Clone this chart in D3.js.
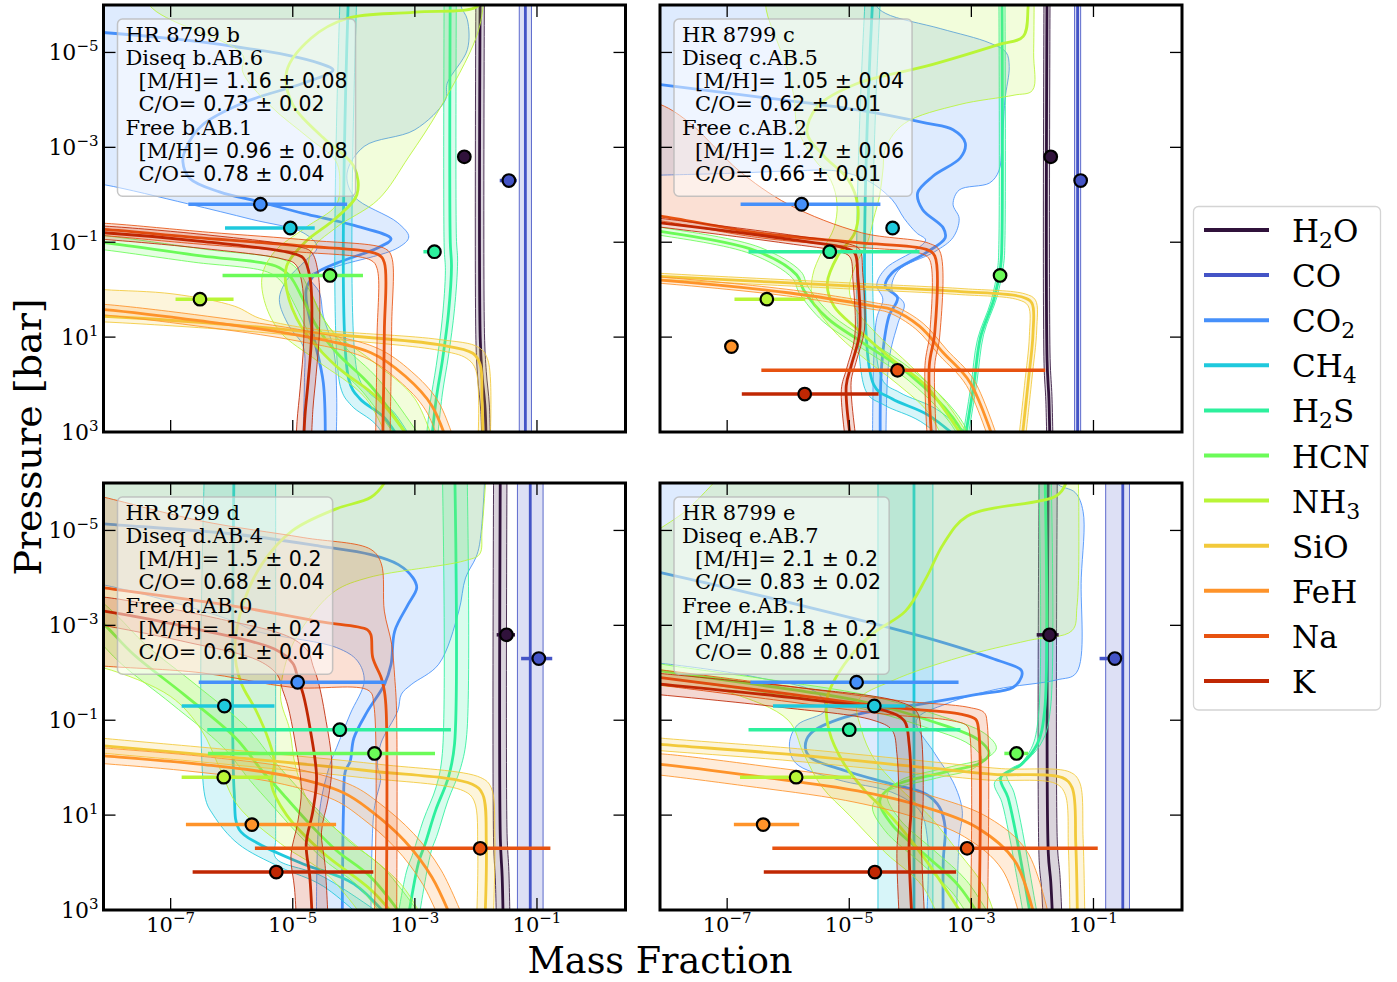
<!DOCTYPE html>
<html><head><meta charset="utf-8">
<script src="https://cdn.jsdelivr.net/npm/d3@7"></script>
<style>body{margin:0;background:#fff}svg{display:block}</style>
</head><body>
<svg id="chart" width="1397" height="982"></svg>
<script>
// ---------------- shared ----------------
const species = ["H2O","CO","CO2","CH4","H2S","HCN","NH3","SiO","FeH","Na","K"];
const legendParts = [[["H",0],["2",1],["O",0]],[["CO",0]],[["CO",0],["2",1]],[["CH",0],["4",1]],
  [["H",0],["2",1],["S",0]],[["HCN",0]],[["NH",0],["3",1]],[["SiO",0]],[["FeH",0]],[["Na",0]],[["K",0]]];
const colors = ["#30123b","#4454c6","#4690fa","#1fc9dd","#2df09d","#6bfb58","#b9f537","#f2c93a","#fe932a","#e75210","#c02703"];
const pointP = [-2.8,-2.3,-1.8,-1.3,-0.8,-0.3,0.2,0.7,1.2,1.7,2.2];   // log10 P of free-retrieval points
const xTicks = [-7,-5,-3,-1];
const yTicks = [-5,-3,-1,1,3];
const xLim = [-8.1,0.45];
const yLim = [-6,3];

// ---------------- HR 8799 b ----------------
const b_info = ["HR 8799 b","Diseq b.AB.6","1.16 ± 0.08","0.73 ± 0.02","Free b.AB.1","0.96 ± 0.08","0.78 ± 0.04"];
const b_med = {
 H2O:[[-1.93,-6.5],[-1.93,1.0],[-1.9,1.8],[-1.85,2.5],[-1.83,3.5]],
 CO:[[-1.19,-6.5],[-1.19,3.5]],
 CO2:[[-8.6,-5.45],[-8.11,-5.42],[-6.75,-5.26],[-5.93,-5.12],[-5.11,-4.95],[-4.56,-4.77],[-4.34,-4.63],[-4.83,-4.35],[-5.77,-3.96],[-6.48,-3.47],[-6.75,-2.98],[-6.8,-2.7],[-6.69,-2.35],[-6.2,-2.06],[-5.54,-1.85],[-4.83,-1.61],[-4.01,-1.36],[-3.39,-1.07],[-3.61,-0.88],[-4.28,-0.56],[-4.61,-0.35],[-4.78,0.0],[-4.67,0.91],[-4.5,1.96],[-4.47,3.5]],
 CH4:[[-4.08,-6.5],[-4.08,1.9],[-3.9,2.3],[-3.5,2.7],[-3.1,3.5]],
 H2S:[[-2.42,-6.5],[-2.42,-1.0],[-2.4,-0.5],[-2.45,0.5],[-2.55,1.5],[-2.65,2.3],[-2.75,3.5]],
 HCN:[[-8.6,-1.05],[-8.09,-0.99],[-6.5,-0.71],[-5.28,-0.5],[-5.05,-0.29],[-4.83,0.21],[-4.61,0.77],[-4.28,1.33],[-3.72,2.03],[-2.9,3.5]],
 NH3:[[-1.93,-6.5],[-1.95,-6.0],[-3.0,-5.85],[-4.1,-5.72],[-4.7,-5.3],[-5.1,-4.6],[-5.0,-3.9],[-4.5,-3.2],[-4.0,-2.6],[-3.95,-2.0],[-4.3,-1.5],[-4.8,-1.0],[-5.1,-0.5],[-5.1,0.0],[-4.85,0.8],[-4.3,1.6],[-3.6,2.3],[-2.9,3.5]],
 SiO:[[-8.6,0.53],[-8.09,0.56],[-6.0,0.74],[-4.28,0.95],[-2.61,1.16],[-2.05,1.34],[-1.93,1.58],[-1.9,2.3],[-1.88,3.5]],
 FeH:[[-8.6,0.38],[-8.09,0.42],[-6.5,0.66],[-4.83,0.98],[-3.72,1.33],[-3.16,1.82],[-2.72,2.45],[-2.4,3.5]],
 Na:[[-8.6,-1.3],[-8.09,-1.27],[-6.5,-1.09],[-4.83,-0.92],[-3.6,-0.74],[-3.5,-0.57],[-3.5,0.9],[-3.53,3.5]],
 K:[[-8.6,-1.23],[-8.09,-1.2],[-6.5,-1.02],[-5.05,-0.78],[-4.83,-0.67],[-4.72,-0.27],[-4.69,0.91],[-4.75,1.96],[-4.8,2.65],[-4.83,3.5]]
};
const b_width = {H2O:0.07, CO:0.1, CH4:0.14, H2S:0.1, HCN:0.13, FeH:0.1, Na:0.12, K:0.13};
const b_band = {
 CO2:[[[-8.6,-6.6],[-2.25,-6.6],[-2.25,-6.0],[-2.14,-5.69],[-2.14,-5.06],[-2.47,-4.35],[-2.5,-4.0],[-3.0,-3.37],[-3.83,-3.02],[-4.11,-2.46],[-4.0,-1.97],[-3.28,-1.41],[-3.1,-1.11],[-3.28,-0.88],[-4.28,-0.49],[-4.72,-0.28],[-4.56,0.07],[-4.5,0.56],[-4.33,1.26],[-4.28,2.3],[-4.3,3.6]],
      [[-8.6,-2.3],[-8.08,-2.21],[-6.72,-1.81],[-5.67,-1.48],[-4.83,-1.2],[-4.6,-0.9],[-4.8,-0.6],[-5.1,-0.2],[-5.22,0.21],[-5.06,0.77],[-4.83,1.19],[-4.81,1.96],[-4.85,3.6]]],
 NH3:[[[-1.88,-6.6],[-1.88,-6.0],[-2.0,-5.3],[-2.6,-3.8],[-3.1,-2.8],[-3.6,-1.9],[-4.3,-1.3],[-4.7,-0.8],[-4.7,0.0],[-4.4,0.8],[-3.7,1.5],[-3.0,2.3],[-2.6,3.6]],
      [[-7.6,-6.6],[-7.3,-5.93],[-5.82,-4.95],[-5.82,-4.59],[-5.38,-3.89],[-4.73,-3.19],[-4.29,-2.7],[-4.23,-2.2],[-4.29,-1.78],[-4.8,-1.3],[-5.3,-0.8],[-5.5,-0.3],[-5.45,0.3],[-5.2,0.9],[-4.6,1.5],[-3.8,2.3],[-3.3,3.6]]],
 SiO:[[[-8.6,-0.05],[-8.09,0.0],[-6.96,0.09],[-5.95,0.35],[-5.55,0.6],[-4.83,0.8],[-4.28,0.88],[-2.6,1.05],[-1.95,1.22],[-1.8,1.5],[-1.78,3.6]],
      [[-8.6,0.66],[-8.09,0.68],[-6.0,0.85],[-4.28,1.05],[-2.6,1.28],[-2.15,1.45],[-2.0,1.7],[-1.98,3.6]]]
};
const b_free   = [-2.19,-1.46,-5.53,-5.04,-2.68,-4.39,-6.52,null,null,null,null];
const b_freeLo = [null,-1.61,-6.71,-6.11,-2.86,-6.15,-6.92,null,null,null,null];
const b_freeHi = [null,-1.33,-4.11,-4.64,-2.58,-3.85,-5.97,null,null,null,null];

// ---------------- HR 8799 c ----------------
const c_info = ["HR 8799 c","Diseq c.AB.5","1.05 ± 0.04","0.62 ± 0.01","Free c.AB.2","1.27 ± 0.06","0.66 ± 0.01"];
const c_med = {
 H2O:[[-1.76,-6.5],[-1.76,1.5],[-1.73,2.3],[-1.71,3.5]],
 CO:[[-1.26,-6.5],[-1.26,3.5]],
 CO2:[[-8.6,-4.4],[-8.09,-4.32],[-6.53,-4.07],[-4.86,-3.79],[-3.74,-3.51],[-3.3,-3.37],[-3.1,-3.09],[-3.18,-2.78],[-3.63,-2.39],[-3.88,-2.04],[-3.8,-1.69],[-3.46,-1.3],[-3.43,-1.09],[-3.74,-0.78],[-4.3,-0.35],[-4.41,-0.07],[-4.21,0.17],[-4.35,0.56],[-4.47,1.61],[-4.49,3.5]],
 CH4:[[-4.6,-6.5],[-4.6,2.0],[-4.3,2.3],[-3.7,2.65],[-2.9,3.5]],
 H2S:[[-2.5,-6.5],[-2.5,-1.0],[-2.52,-0.5],[-2.63,0.2],[-2.85,1.0],[-2.96,2.0],[-3.15,3.5]],
 HCN:[[-8.6,-1.32],[-8.09,-1.23],[-6.53,-0.82],[-5.86,-0.31],[-5.75,0.0],[-5.36,0.6],[-4.8,1.1],[-4.0,1.8],[-3.3,2.7],[-2.95,3.5]],
 NH3:[[-2.05,-6.5],[-2.07,-5.97],[-2.15,-5.34],[-2.57,-5.16],[-3.74,-4.71],[-4.86,-4.35],[-5.52,-3.86],[-5.69,-3.3],[-5.41,-2.81],[-5.02,-2.32],[-4.86,-1.76],[-4.91,-1.2],[-5.19,-0.71],[-5.36,-0.14],[-5.25,0.35],[-4.86,0.84],[-4.3,1.47],[-3.74,2.03],[-2.95,3.5]],
 SiO:[[-8.6,-0.32],[-8.09,-0.28],[-4.86,-0.07],[-3.18,0.04],[-2.18,0.15],[-2.01,0.28],[-1.99,0.91],[-2.07,1.96],[-2.2,3.5]],
 FeH:[[-8.6,-0.24],[-8.09,-0.2],[-5.97,0.07],[-4.58,0.35],[-4.3,0.42],[-3.85,0.77],[-3.46,1.33],[-3.02,1.96],[-2.55,3.5]],
 Na:[[-8.6,-1.62],[-8.09,-1.55],[-6.53,-1.2],[-4.86,-0.99],[-3.74,-0.85],[-3.6,-0.71],[-3.6,0.91],[-3.69,1.61],[-3.63,3.5]],
 K:[[-8.6,-1.48],[-8.09,-1.41],[-5.97,-1.06],[-5.08,-0.88],[-4.91,-0.77],[-4.86,-0.28],[-4.83,0.91],[-4.97,1.61],[-5.05,2.03],[-4.94,3.5]]
};
const c_width = {H2O:0.05, CO:0.05, CH4:0.13, H2S:0.05, HCN:0.07, SiO:0.06, FeH:0.06, K:0.08};
const c_band = {
 CO2:[[[-8.6,-6.6],[-4.56,-6.6],[-4.56,-6.0],[-4.4,-5.82],[-3.5,-5.5],[-2.7,-5.2],[-2.43,-5.0],[-2.38,-4.7],[-2.45,-4.0],[-2.5,-3.0],[-2.55,-2.5],[-2.7,-2.25],[-3.2,-2.1],[-3.3,-1.8],[-3.2,-1.5],[-3.3,-1.1],[-3.6,-0.8],[-4.2,-0.4],[-4.3,0.0],[-4.1,0.3],[-4.2,0.7],[-4.35,1.5],[-4.4,3.6]],
      [[-8.6,-2.4],[-7.0,-2.45],[-6.0,-2.5],[-5.2,-2.5],[-4.7,-2.3],[-4.3,-1.9],[-4.1,-1.5],[-3.9,-1.2],[-3.75,-1.05],[-3.9,-0.85],[-4.4,-0.45],[-4.55,-0.1],[-4.45,0.2],[-4.55,0.6],[-4.6,1.5],[-4.62,3.6]]],
 NH3:[[[-1.97,-6.6],[-1.98,-5.0],[-2.0,-4.2],[-2.3,-4.1],[-3.2,-3.9],[-4.1,-3.5],[-4.4,-3.0],[-4.45,-2.5],[-4.5,-2.0],[-4.6,-1.5],[-4.7,-1.0],[-4.9,-0.5],[-5.0,0.0],[-4.9,0.4],[-4.5,1.0],[-4.0,1.6],[-3.4,2.4],[-2.8,3.6]],
      [[-6.36,-6.6],[-6.36,-5.9],[-6.2,-5.3],[-6.0,-4.6],[-5.9,-4.0],[-5.85,-3.4],[-5.6,-2.8],[-5.3,-2.3],[-5.2,-1.8],[-5.25,-1.3],[-5.45,-0.8],[-5.6,-0.3],[-5.6,0.2],[-5.3,0.8],[-4.8,1.4],[-4.2,2.0],[-3.7,2.6],[-3.3,3.6]]],
 Na:[[[-8.6,-4.0],[-8.09,-3.9],[-7.6,-3.5],[-7.2,-3.0],[-6.8,-2.5],[-6.0,-1.8],[-4.8,-1.2],[-3.7,-0.98],[-3.52,-0.82],[-3.52,1.0],[-3.6,1.6],[-3.55,3.6]],
     [[-8.6,-1.52],[-8.09,-1.45],[-6.5,-1.1],[-4.9,-0.9],[-3.8,-0.75],[-3.68,-0.62],[-3.68,0.9],[-3.76,1.6],[-3.7,3.6]]]
};
const c_free   = [-1.70,-1.21,-5.78,-4.29,-5.32,-2.53,-6.35,null,-6.93,-4.21,-5.73];
const c_freeLo = [null,null,-6.78,null,-6.65,null,-6.88,null,null,-6.44,-6.76];
const c_freeHi = [null,null,-4.49,null,-3.85,null,-5.72,null,null,-1.79,-4.52];

// ---------------- HR 8799 d ----------------
const d_info = ["HR 8799 d","Diseq d.AB.4","1.5 ± 0.2","0.68 ± 0.04","Free d.AB.0","1.2 ± 0.2","0.61 ± 0.04"];
const d_med = {
 H2O:[[-1.6,-6.5],[-1.6,1.5],[-1.57,2.3],[-1.55,3.5]],
 CO:[[-1.11,-6.5],[-1.11,3.5]],
 CO2:[[-8.6,-5.2],[-8.09,-5.14],[-5.94,-4.92],[-4.56,-4.67],[-3.72,-4.49],[-3.27,-4.28],[-3.03,-4.0],[-2.97,-3.79],[-3.11,-3.44],[-3.33,-2.88],[-3.39,-2.18],[-3.5,-1.75],[-3.78,-1.18],[-4.0,-0.62],[-4.06,-0.13],[-4.14,0.08],[-4.17,0.91],[-4.19,3.5]],
 CH4:[[-5.96,-6.5],[-5.96,0.5],[-5.88,1.3],[-5.55,1.61],[-4.83,2.03],[-4.0,2.45],[-3.2,3.5]],
 H2S:[[-2.35,-6.5],[-2.35,-0.5],[-2.45,0.2],[-2.66,0.9],[-2.83,1.6],[-2.94,2.0],[-3.15,3.5]],
 HCN:[[-8.6,-3.6],[-8.09,-3.02],[-7.61,-2.39],[-6.78,-1.54],[-5.94,-0.63],[-5.5,0.07],[-5.16,0.56],[-4.72,1.19],[-4.28,1.75],[-3.72,2.31],[-3.0,3.5]],
 NH3:[[-3.35,-6.5],[-3.5,-6.0],[-3.72,-5.7],[-4.3,-5.45],[-5.0,-5.0],[-5.5,-4.3],[-5.8,-3.5],[-5.95,-2.5],[-5.85,-1.8],[-5.6,-1.2],[-5.4,-0.6],[-5.3,-0.1],[-5.35,0.35],[-5.1,1.0],[-4.5,1.8],[-3.7,2.6],[-3.1,3.5]],
 SiO:[[-8.6,-0.52],[-8.09,-0.46],[-5.94,-0.21],[-3.72,0.07],[-2.06,0.35],[-1.89,0.56],[-1.83,1.61],[-1.86,3.5]],
 FeH:[[-8.6,-0.3],[-8.09,-0.25],[-6.5,-0.07],[-5.11,0.17],[-4.17,0.53],[-3.72,0.91],[-3.17,1.54],[-2.72,2.31],[-2.3,3.5]],
 Na:[[-8.6,-3.88],[-8.09,-3.79],[-5.94,-3.4],[-4.56,-3.08],[-3.78,-2.91],[-3.72,-2.8],[-3.69,-2.32],[-3.55,-1.89],[-3.5,-1.62],[-3.47,-1.2],[-3.47,3.5]],
 K:[[-8.6,-3.38],[-8.09,-3.3],[-6.5,-2.9],[-5.3,-2.5],[-5.0,-2.2],[-4.92,-1.9],[-4.83,-1.55],[-4.72,-0.85],[-4.61,0.2],[-4.67,0.91],[-4.78,1.61],[-4.72,2.31],[-4.67,3.5]]
};
const d_width = {H2O:0.11, CO:0.21, H2S:0.2, HCN:0.2, SiO:0.14, FeH:0.15, K:0.25};
const d_band = {
 CO2:[[[-8.6,-6.6],[-1.86,-6.6],[-1.86,-6.0],[-1.94,-4.71],[-2.0,-4.43],[-2.17,-4.0],[-2.28,-3.3],[-2.61,-2.18],[-3.06,-1.75],[-3.22,-1.55],[-3.28,-1.2],[-3.56,-0.5],[-3.61,0.0],[-3.56,0.2],[-3.67,0.91],[-3.72,3.6]],
      [[-8.6,-3.95],[-8.09,-3.85],[-7.0,-3.5],[-6.0,-3.1],[-5.61,-2.88],[-4.28,-2.53],[-3.94,-2.25],[-3.83,-1.83],[-4.06,-1.13],[-4.28,-0.43],[-4.39,-0.07],[-4.56,0.91],[-4.61,3.6]]],
 CH4:[[[-5.28,-6.6],[-5.28,1.5],[-5.28,1.9],[-4.5,2.3],[-3.0,3.6]],
      [[-6.44,-6.6],[-6.44,0.6],[-6.3,1.0],[-5.9,1.6],[-5.2,2.1],[-4.5,2.5],[-3.5,3.6]]],
 NH3:[[[-1.81,-6.6],[-1.9,-5.0],[-1.94,-4.5],[-2.19,-4.36],[-3.75,-4.01],[-4.3,-3.73],[-4.72,-3.17],[-5.05,-2.46],[-5.2,-1.5],[-5.05,-0.8],[-4.95,0.0],[-4.7,0.8],[-4.0,1.6],[-3.2,2.5],[-2.7,3.6]],
      [[-8.6,-6.6],[-8.6,-2.2],[-8.09,-2.1],[-7.0,-1.5],[-6.5,-0.8],[-6.2,0.0],[-5.9,0.8],[-5.2,1.6],[-4.4,2.3],[-3.6,3.6]]],
 Na:[[[-8.6,-5.85],[-8.09,-5.7],[-6.5,-5.2],[-4.83,-4.85],[-3.72,-4.6],[-3.55,-4.3],[-3.5,-3.3],[-3.38,-2.6],[-3.33,-1.9],[-3.3,-1.2],[-3.3,3.6]],
     [[-8.6,-2.2],[-8.09,-2.14],[-6.5,-2.0],[-5.0,-1.69],[-3.75,-1.62],[-3.67,-1.3],[-3.67,3.6]]]
};
const d_free   = [-1.5,-0.97,-4.92,-6.12,-4.23,-3.66,-6.13,null,-5.67,-1.93,-5.27];
const d_freeLo = [-1.66,-1.26,-6.54,-6.82,-6.4,-6.39,-6.82,null,-6.75,-5.62,-6.64];
const d_freeHi = [-1.36,-0.75,-3.47,-5.3,-2.41,-2.67,-5.34,null,-4.29,-0.78,-3.68];

// ---------------- HR 8799 e ----------------
const e_info = ["HR 8799 e","Diseq e.AB.7","2.1 ± 0.2","0.83 ± 0.02","Free e.AB.1","1.8 ± 0.2","0.88 ± 0.01"];
const e_med = {
 H2O:[[-1.74,-6.5],[-1.74,1.8],[-1.7,2.4],[-1.66,3.5]],
 CO:[[-0.52,-6.5],[-0.52,3.5]],
 CO2:[[-8.6,-4.25],[-8.09,-4.11],[-5.41,-3.3],[-3.74,-2.74],[-2.63,-2.29],[-2.18,-2.05],[-2.18,-1.91],[-2.32,-1.69],[-2.88,-1.55],[-3.83,-1.34],[-5.08,-1.06],[-5.64,-0.71],[-5.72,-0.43],[-5.64,-0.22],[-5.08,0.06],[-4.3,0.35],[-3.74,0.56],[-3.52,0.84],[-3.43,1.26],[-3.46,1.96],[-3.46,3.5]],
 CH4:[[-3.94,-6.5],[-3.94,3.5]],
 H2S:[[-1.8,-6.5],[-1.8,-1.2],[-1.92,-0.5],[-2.18,-0.07],[-2.52,0.21],[-2.4,0.63],[-2.29,1.26],[-2.18,2.03],[-1.98,3.5]],
 HCN:[[-8.6,-2.15],[-8.09,-2.04],[-6.5,-1.75],[-4.8,-1.4],[-3.7,-1.0],[-2.9,-0.6],[-2.71,-0.3],[-2.85,-0.1],[-3.45,0.1],[-4.3,0.4],[-4.5,0.7],[-4.3,1.2],[-3.7,1.9],[-3.2,2.5],[-2.7,3.5]],
 NH3:[[-1.4,-6.5],[-1.46,-5.97],[-1.62,-5.72],[-3.07,-5.3],[-3.46,-4.71],[-3.74,-4.0],[-4.08,-3.3],[-4.63,-2.81],[-5.08,-2.18],[-5.36,-1.48],[-5.33,-0.78],[-5.08,-0.07],[-4.74,0.49],[-4.3,1.05],[-3.74,1.96],[-2.95,3.5]],
 SiO:[[-8.6,-0.55],[-8.09,-0.49],[-5.97,-0.28],[-3.74,0.0],[-2.63,0.14],[-1.51,0.21],[-1.35,0.42],[-1.29,1.61],[-1.26,3.5]],
 FeH:[[-8.6,-0.12],[-8.09,-0.07],[-6.53,0.18],[-4.86,0.49],[-3.74,0.84],[-2.91,1.26],[-2.29,1.96],[-1.9,3.5]],
 Na:[[-8.6,-1.98],[-8.09,-1.9],[-5.97,-1.55],[-4.3,-1.27],[-3.18,-1.13],[-2.93,-1.02],[-2.88,-0.78],[-2.88,3.5]],
 K:[[-8.6,-1.82],[-8.09,-1.76],[-5.97,-1.48],[-4.41,-1.2],[-4.1,-0.99],[-4.02,-0.5],[-3.99,0.91],[-4.02,1.61],[-3.96,3.5]]
};
const e_width = {H2O:0.15, H2S:0.1, HCN:0.12, SiO:0.12, FeH:0.2, Na:0.14, K:0.2};
const e_band = {
 CO:[[[-0.41,-6.6],[-0.41,3.6]],[[-0.8,-6.6],[-0.8,3.6]]],
 CH4:[[[-3.63,-6.6],[-3.63,3.6]],[[-4.53,-6.6],[-4.53,3.6]]],
 CO2:[[[-8.6,-6.6],[-1.6,-6.6],[-1.6,-6.0],[-1.3,-5.8],[-1.17,-5.4],[-1.2,-4.0],[-1.28,-2.0],[-1.6,-1.85],[-2.6,-1.65],[-3.4,-1.35],[-3.9,-1.0],[-3.6,-0.3],[-3.3,0.3],[-3.15,0.9],[-3.2,1.5],[-3.25,3.6]],
      [[-8.6,-2.25],[-8.09,-2.2],[-6.5,-1.9],[-5.5,-1.55],[-5.4,-1.2],[-5.85,-0.9],[-5.98,-0.5],[-5.88,-0.1],[-5.2,0.25],[-4.3,0.52],[-3.85,0.9],[-3.72,1.5],[-3.75,3.6]]],
 NH3:[[[-1.26,-6.6],[-1.24,-5.4],[-1.27,-3.4],[-1.35,-2.89],[-2.07,-2.68],[-3.18,-2.33],[-4.3,-1.83],[-4.86,-1.41],[-4.8,-0.8],[-4.6,-0.2],[-4.2,0.4],[-3.7,1.0],[-3.2,1.8],[-2.8,2.5],[-2.5,3.6]],
      [[-6.8,-6.6],[-7.6,-5.5],[-8.6,-4.4],[-8.6,-2.0],[-7.0,-1.6],[-6.0,-1.0],[-5.75,-0.3],[-5.45,0.4],[-5.0,1.0],[-4.4,1.8],[-3.8,2.5],[-3.4,3.6]]]
};
const e_free   = [-1.72,-0.65,-4.88,-4.59,-5.0,-2.26,-5.87,null,-6.41,-3.07,-4.58];
const e_freeLo = [-1.93,-0.9,-6.62,-6.25,-6.65,-2.46,-6.79,null,-6.89,-6.26,-6.4];
const e_freeHi = [-1.57,-0.62,-3.21,-4.08,-3.18,-2.07,-4.97,null,-5.82,-0.93,-3.25];

// ---------------- drawing ----------------
const panels = [
 {med:b_med, width:b_width, band:b_band, fx:b_free, flo:b_freeLo, fhi:b_freeHi, info:b_info, left:103.5, top:5, xl:false, yl:true},
 {med:c_med, width:c_width, band:c_band, fx:c_free, flo:c_freeLo, fhi:c_freeHi, info:c_info, left:660, top:5, xl:false, yl:false},
 {med:d_med, width:d_width, band:d_band, fx:d_free, flo:d_freeLo, fhi:d_freeHi, info:d_info, left:103.5, top:483, xl:true, yl:true},
 {med:e_med, width:e_width, band:e_band, fx:e_free, flo:e_freeLo, fhi:e_freeHi, info:e_info, left:660, top:483, xl:true, yl:false}
];
const W = 522, H = 427;
const serif = "'DejaVu Serif', serif", sans = "'DejaVu Sans', sans-serif";
const svg = d3.select("#chart");
const defs = svg.append("defs");
const x = d3.scaleLog().domain([10 ** xLim[0], 10 ** xLim[1]]).range([0, W]);
const y = d3.scaleLog().domain([10 ** yLim[0], 10 ** yLim[1]]).range([0, H]);
const line = d3.line().x(d => x(10 ** d[0])).y(d => y(10 ** d[1])).curve(d3.curveCatmullRom.alpha(0.5));

panels.forEach((p, i) => {
  defs.append("clipPath").attr("id", "clip" + i).append("rect").attr("width", W).attr("height", H);
  const g = svg.append("g").attr("transform", `translate(${p.left},${p.top})`);
  const plot = g.append("g").attr("clip-path", `url(#clip${i})`);
  species.forEach((s, k) => {
    const med = p.med[s];
    if (!med) return;
    let up, lo;
    if (p.band[s]) { up = p.band[s][0]; lo = p.band[s][1]; }
    else { const w = p.width[s]; up = med.map(d => [d[0] + w, d[1] - w]); lo = med.map(d => [d[0] - w, d[1] + w]); }
    const fillPath = line(up) + "L" + line(lo.slice().reverse()).slice(1) + "Z";
    plot.append("path").attr("d", fillPath).attr("fill", colors[k]).attr("fill-opacity", 0.18).attr("stroke", "none");
    [up, lo].forEach(e => plot.append("path").attr("d", line(e)).attr("fill", "none")
      .attr("stroke", colors[k]).attr("stroke-width", 1).attr("stroke-opacity", 0.85));
    plot.append("path").attr("d", line(med)).attr("fill", "none").attr("stroke", colors[k]).attr("stroke-width", 2.8);
  });
  // info box
  const tb = g.append("g");
  const tx = 22, ty0 = 36.5, dy = 23.3;
  const rows = [[p.info[0], null, 0], [p.info[1], null, 0], ["[M/H]= ", p.info[2], 1], ["C/O= ", p.info[3], 1],
                [p.info[4], null, 0], ["[M/H]= ", p.info[5], 1], ["C/O= ", p.info[6], 1]];
  const txt = tb.append("g");
  rows.forEach((r, j) => {
    const t = txt.append("text").attr("x", tx + r[2] * 13).attr("y", ty0 + j * dy)
      .attr("font-family", serif).attr("font-size", 21).attr("fill", "#000");
    t.append("tspan").text(r[0]);
    if (r[1]) t.append("tspan").attr("font-family", sans).attr("font-size", 20.5).text(r[1]);
  });
  const bb = txt.node().getBBox();
  tb.insert("rect", ":first-child").attr("x", tx - 8).attr("y", ty0 - 22.5)
    .attr("width", bb.width + 16).attr("height", 6 * dy + 37.5).attr("rx", 5)
    .attr("fill", "#fff").attr("fill-opacity", 0.5).attr("stroke", "#b8b8b8").attr("stroke-opacity", 0.8).attr("stroke-width", 1.5);
  // free retrieval points
  species.forEach((s, k) => {
    if (p.fx[k] == null) return;
    const yy = y(10 ** pointP[k]);
    if (p.flo[k] != null) g.append("line").attr("x1", x(10 ** p.flo[k])).attr("x2", x(10 ** p.fhi[k]))
      .attr("y1", yy).attr("y2", yy).attr("stroke", colors[k]).attr("stroke-width", 3.5);
    g.append("circle").attr("cx", x(10 ** p.fx[k])).attr("cy", yy).attr("r", 6.3)
      .attr("fill", colors[k]).attr("stroke", "#000").attr("stroke-width", 2.2);
  });
  // ticks
  const tk = g.append("g").attr("stroke", "#000").attr("stroke-width", 1.3);
  xTicks.forEach(t => { const xx = x(10 ** t);
    tk.append("line").attr("x1", xx).attr("x2", xx).attr("y1", H).attr("y2", H - 12);
    tk.append("line").attr("x1", xx).attr("x2", xx).attr("y1", 0).attr("y2", 12); });
  yTicks.forEach(t => { const yy = y(10 ** t);
    tk.append("line").attr("y1", yy).attr("y2", yy).attr("x1", 0).attr("x2", 12);
    tk.append("line").attr("y1", yy).attr("y2", yy).attr("x1", W).attr("x2", W - 12); });
  g.append("rect").attr("width", W).attr("height", H).attr("fill", "none").attr("stroke", "#000").attr("stroke-width", 3);
  if (p.xl) xTicks.forEach(t => {
    const te = g.append("text").attr("x", x(10 ** t)).attr("y", H + 22).attr("text-anchor", "middle")
      .attr("font-family", serif).attr("font-size", 21);
    te.append("tspan").text("10");
    te.append("tspan").attr("font-size", 15).attr("dy", -9).text(String(t).replace("-", "\u2212"));
  });
  if (p.yl) yTicks.forEach(t => {
    const te = g.append("text").attr("x", -5).attr("y", y(10 ** t) + 8).attr("text-anchor", "end")
      .attr("font-family", serif).attr("font-size", 22);
    te.append("tspan").text("10");
    te.append("tspan").attr("font-size", 15).attr("dy", -9).text(String(t).replace("-", "\u2212"));
  });
});

// axis titles
svg.append("text").attr("x", 660).attr("y", 973).attr("text-anchor", "middle")
  .attr("font-family", serif).attr("font-size", 36.5).text("Mass Fraction");
svg.append("text").attr("transform", "translate(41,437) rotate(-90)").attr("text-anchor", "middle")
  .attr("font-family", serif).attr("font-size", 38).text("Pressure [bar]");

// legend
const lg = svg.append("g");
lg.append("rect").attr("x", 1193.5).attr("y", 206.5).attr("width", 187).attr("height", 503.5).attr("rx", 5)
  .attr("fill", "#fff").attr("stroke", "#d4d4d4").attr("stroke-width", 1.3);
species.forEach((s, i) => {
  const yy = 230 + 45.1 * i;
  lg.append("line").attr("x1", 1204).attr("x2", 1269).attr("y1", yy).attr("y2", yy)
    .attr("stroke", colors[i]).attr("stroke-width", 4);
  const t = lg.append("text").attr("x", 1292).attr("y", yy + 12).attr("font-family", serif).attr("font-size", 31);
  let sub = 0;
  legendParts[i].forEach(([str, isSub]) => {
    const ts = t.append("tspan").text(str);
    if (isSub && !sub) { ts.attr("font-size", 22).attr("dy", 6); sub = 1; }
    else if (!isSub && sub) { ts.attr("dy", -6); sub = 0; }
  });
});
</script>
</body></html>
